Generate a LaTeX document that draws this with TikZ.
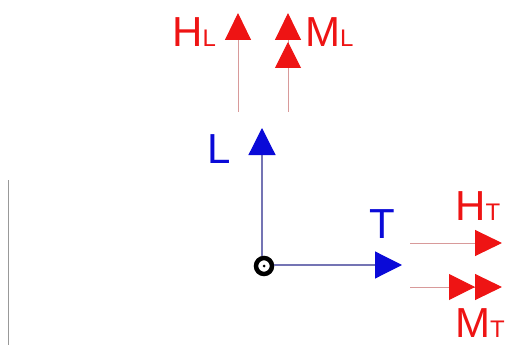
\documentclass[tikz,border=0pt]{standalone}
\usepackage{fontspec}
\setmainfont{Liberation Sans}
\usetikzlibrary{arrows.meta}
\definecolor{axisblue}{HTML}{0A0AD8}
\definecolor{axisline}{HTML}{7474B4}
\definecolor{forcered}{HTML}{EE1414}
\definecolor{forceline}{HTML}{D89A9A}
\tikzset{
  axis/.style={draw=axisline,line width=1.2pt,-{Triangle[width=27pt,length=27pt,color=axisblue]}},
  force/.style={draw=forceline,line width=1pt,-{Triangle[width=26pt,length=27pt,color=forcered]}},
  force2/.style={draw=forceline,line width=1pt,-{Triangle[width=26pt,length=26pt,color=forcered,sep=2pt]Triangle[width=26pt,length=27pt,color=forcered]}},
  force2h/.style={draw=forceline,line width=1pt,-{Triangle[width=26pt,length=26pt,color=forcered,sep=0pt]Triangle[width=26pt,length=27pt,color=forcered]}},
  lbl/.style={inner sep=0pt,anchor=base west},
  big/.style={font=\fontsize{42}{42}\selectfont},
}
\newcommand{\subl}[1]{{\fontsize{24}{24}\selectfont #1}}
\begin{document}
\begin{tikzpicture}[x=1pt,y=-1pt]
  \useasboundingbox (0,0) rectangle (512,345);
  % frame edge on the left
  \draw[draw=gray!80,line width=1pt] (8,180) -- (8,345);
  % origin
  \node[circle,draw=black,line width=4.5pt,fill=white,minimum size=16pt,inner sep=0pt] (o) at (264,266) {};
  \fill[black] (o.center) circle (1.5pt);
  % axes
  \coordinate (ltip) at (262,128);
  \coordinate (ttip) at (402,265);
  \draw[axis] (o.north -| ltip) -- (ltip);
  \draw[axis] (o.east |- ttip) -- (ttip);
  \node[lbl,big,text=axisblue] (lL) at (207,163) {L};
  \node[lbl,big,text=axisblue] (lT) at (369,238) {T};
  % forces along L
  \coordinate (hl0) at (238,112);
  \coordinate (hl1) at (238,13);
  \coordinate (ml0) at (288,112);
  \coordinate (ml1) at (288,13);
  \draw[force] (hl0) -- (hl1);
  \draw[force2] (ml0) -- (ml1);
  \node[lbl,big,text=forcered] (lHL) at (172,47) {H\subl{L}};
  \node[lbl,big,text=forcered] (lML) at (305,47) {M\subl{L}};
  % forces along T
  \coordinate (ht0) at (410,243);
  \coordinate (ht1) at (502,243);
  \coordinate (mt0) at (410,287);
  \coordinate (mt1) at (502,287);
  \draw[force] (ht0) -- (ht1);
  \draw[force2h] (mt0) -- (mt1);
  \node[lbl,big,text=forcered] (lHT) at (455,220) {H\subl{T}};
  \node[lbl,big,text=forcered] (lMT) at (455,337) {M\subl{T}};
\end{tikzpicture}
\end{document}
